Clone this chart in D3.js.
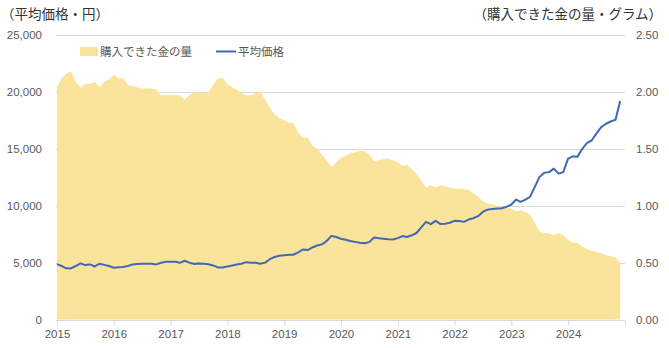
<!DOCTYPE html>
<html>
<head>
<meta charset="utf-8">
<script src="https://cdn.jsdelivr.net/npm/d3@7"></script>
<style>
  html, body { margin: 0; padding: 0; background: #fff; }
  svg { display: block; font-family: "Noto Sans CJK JP", "Noto Sans", sans-serif; }
</style>
</head>
<body>
<svg id="chart" width="669" height="348"></svg>
<script>
// Monthly series, Jan 2015 – Dec 2024
const startYear = 2015;
const yearTicks = [2015, 2016, 2017, 2018, 2019, 2020, 2021, 2022, 2023, 2024];

// 平均価格 (円)
const avgPrice = [
  4870, 4700, 4500, 4490, 4700, 4930, 4780, 4840, 4660, 4900, 4800, 4700,
  4550, 4600, 4620, 4700, 4840, 4870, 4900, 4900, 4900, 4840, 4990, 5070,
  5070, 5070, 4980, 5160, 5000, 4870, 4920, 4900, 4850, 4750, 4580, 4576,
  4650, 4750, 4840, 4900, 5040, 4985, 4985, 4900, 5000, 5300, 5500, 5600,
  5650, 5690, 5690, 5900, 6150, 6100, 6330, 6500, 6600, 6900, 7350, 7250,
  7100, 7000, 6900, 6820, 6750, 6700, 6800, 7200, 7150, 7100, 7050, 7030,
  7150, 7330, 7250, 7400, 7600, 8100, 8580, 8380, 8670, 8400, 8420, 8500,
  8670, 8650, 8580, 8780, 8900, 9080, 9450, 9650, 9720, 9750, 9780, 9900,
  10100, 10540, 10336, 10540, 10775, 11650, 12530, 12900, 12950, 13260, 12820, 12950,
  14140, 14340, 14290, 15000, 15500, 15750, 16330, 16900, 17200, 17400, 17550, 19200
];

// 購入できた金の量 (グラム)
const goldGrams = [
  2.04, 2.12, 2.16, 2.18, 2.09, 2.04, 2.07, 2.07, 2.09, 2.04, 2.09, 2.11,
  2.15, 2.12, 2.12, 2.06, 2.05, 2.04, 2.03, 2.03, 2.03, 2.02, 1.97, 1.97,
  1.97, 1.97, 1.97, 1.93, 1.97, 2.00, 1.99, 1.99, 2.00, 2.06, 2.12, 2.12,
  2.07, 2.04, 2.02, 1.99, 1.97, 1.97, 1.99, 2.00, 1.93, 1.86, 1.80, 1.77,
  1.75, 1.73, 1.73, 1.64, 1.60, 1.60, 1.53, 1.50, 1.45, 1.40, 1.34, 1.38,
  1.42, 1.44, 1.46, 1.47, 1.48, 1.48, 1.45, 1.39, 1.40, 1.41, 1.41, 1.40,
  1.38, 1.35, 1.36, 1.32, 1.28, 1.22, 1.16, 1.18, 1.16, 1.18, 1.17, 1.16,
  1.15, 1.15, 1.15, 1.14, 1.11, 1.08, 1.04, 1.02, 1.01, 1.00, 0.99, 0.98,
  0.975, 0.95, 0.96, 0.945, 0.92, 0.85, 0.77, 0.76, 0.755, 0.74, 0.76, 0.74,
  0.70, 0.675, 0.675, 0.64, 0.62, 0.605, 0.595, 0.58, 0.565, 0.555, 0.545, 0.50
];

const leftTicks = [0, 5000, 10000, 15000, 20000, 25000];
const rightTicks = [0, 0.5, 1.0, 1.5, 2.0, 2.5];

const seriesNames = { area: "購入できた金の量", line: "平均価格" };
const titleLeft = "（平均価格・円）";
const titleRight = "（購入できた金の量・グラム）";

const svg = d3.select("#chart");
const plotLeft = 57, plotRight = 625, plotTop = 35, plotBottom = 319.5;

const dates = avgPrice.map((_, i) => new Date(startYear, i, 1));

const x = d3.scaleTime()
  .domain([new Date(startYear, 0, 1), new Date(startYear + 10, 0, 1)])
  .range([plotLeft, plotRight]);
const yL = d3.scaleLinear().domain([0, 25000]).range([plotBottom, plotTop]);
const yR = d3.scaleLinear().domain([0, 2.5]).range([plotBottom, plotTop]);

const tickFont = "'Liberation Sans', Arial, sans-serif";

// gridlines
svg.append("g")
  .selectAll("line")
  .data(leftTicks.filter(d => d > 0))
  .join("line")
  .attr("x1", plotLeft - 1).attr("x2", plotRight)
  .attr("y1", d => Math.round(yL(d)) + 0.5).attr("y2", d => Math.round(yL(d)) + 0.5)
  .attr("stroke", "#d9d9d9").attr("stroke-width", 1);

// area: gold amount
const area = d3.area()
  .x((d, i) => x(dates[i]))
  .y0(yR(0))
  .y1(d => yR(d))
  .curve(d3.curveLinear);
svg.append("path")
  .datum(goldGrams)
  .attr("d", area)
  .attr("fill", "#fae39b");

// line: average price
const line = d3.line()
  .x((d, i) => x(dates[i]))
  .y(d => yL(d))
  .curve(d3.curveLinear);
svg.append("path")
  .datum(avgPrice)
  .attr("d", line)
  .attr("fill", "none")
  .attr("stroke", "#4268b1")
  .attr("stroke-width", 2)
  .attr("stroke-linejoin", "round");

// x axis
const xAxis = d3.axisBottom(x)
  .tickValues(yearTicks.map(y => new Date(y, 0, 1)).concat([new Date(startYear + 10, 0, 1)]))
  .tickFormat(d => d.getFullYear() <= 2024 ? d.getFullYear() : "")
  .tickSizeInner(5).tickSizeOuter(0).tickPadding(4);
const gx = svg.append("g")
  .attr("transform", `translate(0,${Math.round(plotBottom) + 0.5})`)
  .call(xAxis);
gx.select(".domain").attr("stroke", "#d9d9d9").attr("d", `M${plotLeft - 1},0H${plotRight}`);
gx.selectAll(".tick line").attr("stroke", "#d9d9d9");
gx.selectAll(".tick text").attr("fill", "#595959").style("font-size", "11.5px")
  .style("font-family", tickFont);

// left axis
const gl = svg.append("g")
  .attr("transform", `translate(${plotLeft - 15},0)`)
  .call(d3.axisLeft(yL).tickValues(leftTicks).tickFormat(d3.format(",")).tickSize(0).tickPadding(0));
gl.select(".domain").remove();
gl.selectAll(".tick text").attr("fill", "#595959").style("font-size", "11.5px")
  .style("font-family", tickFont);

// right axis
const gr = svg.append("g")
  .attr("transform", `translate(${plotRight + 11},0)`)
  .call(d3.axisRight(yR).tickValues(rightTicks).tickFormat(d3.format(".2f")).tickSize(0).tickPadding(0));
gr.select(".domain").remove();
gr.selectAll(".tick text").attr("fill", "#595959").style("font-size", "11.5px")
  .style("font-family", tickFont);

// axis titles
svg.append("text").attr("x", 1).attr("y", 19)
  .attr("fill", "#333333").style("font-size", "13.5px").text(titleLeft);
svg.append("text").attr("x", 662).attr("y", 19).attr("text-anchor", "end")
  .attr("fill", "#333333").style("font-size", "13.5px").text(titleRight);

// legend
const lg = svg.append("g");
lg.append("rect").attr("x", 80).attr("y", 47).attr("width", 18).attr("height", 9).attr("fill", "#fae39b");
lg.append("text").attr("x", 100).attr("y", 56).attr("fill", "#595959").style("font-size", "11.5px").text(seriesNames.area);
lg.append("line").attr("x1", 216).attr("x2", 236).attr("y1", 51.5).attr("y2", 51.5)
  .attr("stroke", "#4268b1").attr("stroke-width", 2);
lg.append("text").attr("x", 238).attr("y", 56).attr("fill", "#595959").style("font-size", "11.5px").text(seriesNames.line);
</script>
</body>
</html>
